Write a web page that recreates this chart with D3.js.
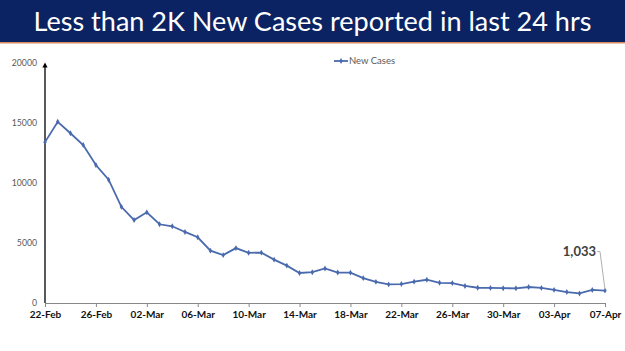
<!DOCTYPE html>
<html>
<head>
<meta charset="utf-8">
<script src="https://cdn.jsdelivr.net/npm/d3@7"></script>
<style>
  body { margin: 0; background: #fff; }
  svg { display: block; font-family: Lato, "Open Sans", sans-serif; }
</style>
</head>
<body>
<div id="chart"></div>
<script>
// Chart values
const dates = ['22-Feb', '23-Feb', '24-Feb', '25-Feb', '26-Feb', '27-Feb', '28-Feb',
  '01-Mar', '02-Mar', '03-Mar', '04-Mar', '05-Mar', '06-Mar', '07-Mar', '08-Mar', '09-Mar',
  '10-Mar', '11-Mar', '12-Mar', '13-Mar', '14-Mar', '15-Mar', '16-Mar', '17-Mar', '18-Mar',
  '19-Mar', '20-Mar', '21-Mar', '22-Mar', '23-Mar', '24-Mar', '25-Mar', '26-Mar', '27-Mar',
  '28-Mar', '29-Mar', '30-Mar', '31-Mar', '01-Apr', '02-Apr', '03-Apr', '04-Apr', '05-Apr',
  '06-Apr', '07-Apr'];
const newCases = [13405, 15102, 14148, 13166, 11499, 10273, 8013, 6915, 7554, 6561, 6396,
  5921, 5476, 4362, 3993, 4575, 4184, 4194, 3614, 3116, 2503, 2568, 2876, 2539, 2528, 2075,
  1761, 1549, 1581, 1778, 1938, 1685, 1660, 1421, 1270, 1259, 1233, 1225, 1335, 1260, 1096,
  913, 795, 1086, 1033];
const tickLabels = ['22-Feb', '26-Feb', '02-Mar', '06-Mar', '10-Mar', '14-Mar', '18-Mar',
  '22-Mar', '26-Mar', '30-Mar', '03-Apr', '07-Apr'];
const yTicks = [0, 5000, 10000, 15000, 20000];
const seriesName = 'New Cases';
const title = 'Less than 2K New Cases reported in last 24 hrs';

const width = 625;
const height = 351;
const lineColor = '#4a6aae';

const svg = d3.select('#chart').append('svg')
    .attr('width', width)
    .attr('height', height);

// Title bar
svg.append('rect')
    .attr('x', 0).attr('y', 0)
    .attr('width', width).attr('height', 42)
    .attr('fill', '#0b2362');
svg.append('rect')
    .attr('x', 0).attr('y', 42)
    .attr('width', width).attr('height', 1.5)
    .attr('fill', '#d98a62');

const titleText = svg.append('text')
    .attr('x', width / 2)
    .attr('y', 31)
    .attr('text-anchor', 'middle')
    .attr('fill', '#fff')
    .attr('font-size', 28)
    .text(title);
// fit title to the width seen in the reference
const tw = titleText.node().getComputedTextLength();
titleText.attr('font-size', 28 * 558 / tw);

// Scales
const x = d3.scalePoint()
    .domain(dates)
    .range([45, 605]);
const y = d3.scaleLinear()
    .domain([0, 20000])
    .range([303, 63]);

// X axis
const xAxis = svg.append('g')
    .attr('transform', `translate(0,${y(0)})`)
    .call(d3.axisBottom(x).tickValues(tickLabels).tickSizeOuter(0).tickSize(4).tickPadding(4));
xAxis.select('.domain').attr('stroke', '#888');
xAxis.selectAll('.tick line').attr('stroke', '#888');
xAxis.selectAll('.tick text')
    .attr('fill', '#111')
    .attr('font-weight', 'bold')
    .attr('font-size', 10)
    .attr('font-family', 'Lato, sans-serif');

// Y axis labels (no tick marks)
svg.append('g')
    .selectAll('text')
    .data(yTicks)
    .join('text')
    .attr('x', 37)
    .attr('y', d => y(d))
    .attr('dy', '0.35em')
    .attr('text-anchor', 'end')
    .attr('fill', '#595959')
    .attr('font-size', 8.7)
    .text(d => d);

// Y axis line with arrow
svg.append('defs').append('marker')
    .attr('id', 'arrow')
    .attr('viewBox', '0 0 10 10')
    .attr('refX', 5).attr('refY', 5)
    .attr('markerWidth', 4).attr('markerHeight', 5)
    .attr('orient', 'auto')
    .append('path')
    .attr('d', 'M0,0 L10,5 L0,10 Z')
    .attr('fill', '#000');
svg.append('line')
    .attr('x1', 45).attr('x2', 45)
    .attr('y1', y(0)).attr('y2', y(20000) + 2)
    .attr('stroke', '#000')
    .attr('stroke-width', 1.3)
    .attr('marker-end', 'url(#arrow)');

// Series line
const line = d3.line()
    .x((d, i) => x(dates[i]))
    .y(d => y(d));
svg.append('path')
    .datum(newCases)
    .attr('fill', 'none')
    .attr('stroke', lineColor)
    .attr('stroke-width', 1.8)
    .attr('d', line);
svg.append('g')
    .selectAll('path')
    .data(newCases)
    .join('path')
    .attr('transform', (d, i) => `translate(${x(dates[i])},${y(d)})`)
    .attr('d', d3.symbol().type(d3.symbolDiamond).size(10))
    .attr('fill', lineColor);

// Legend
const legend = svg.append('g').attr('transform', 'translate(334,61)');
legend.append('line')
    .attr('x1', 0).attr('x2', 14)
    .attr('stroke', lineColor)
    .attr('stroke-width', 1.8);
legend.append('path')
    .attr('transform', 'translate(7,0)')
    .attr('d', d3.symbol().type(d3.symbolDiamond).size(10))
    .attr('fill', lineColor);
legend.append('text')
    .attr('x', 15)
    .attr('dy', '0.35em')
    .attr('fill', '#595959')
    .attr('font-size', 9.5)
    .text(seriesName);

// Last value annotation
const lastIdx = newCases.length - 1;
const lx = x(dates[lastIdx]);
const ly = y(newCases[lastIdx]);
svg.append('path')
    .attr('d', `M${lx - 8},${ly - 39} L${lx - 5},${ly - 39} L${lx},${ly - 1}`)
    .attr('fill', 'none')
    .attr('stroke', '#b0b0b0')
    .attr('stroke-width', 1);
svg.append('text')
    .attr('x', lx - 9)
    .attr('y', ly - 39)
    .attr('dy', '0.35em')
    .attr('text-anchor', 'end')
    .attr('fill', '#404040')
    .attr('font-weight', 'bold')
    .attr('font-size', 13)
    .text(d3.format(',')(newCases[lastIdx]));
</script>
</body>
</html>
